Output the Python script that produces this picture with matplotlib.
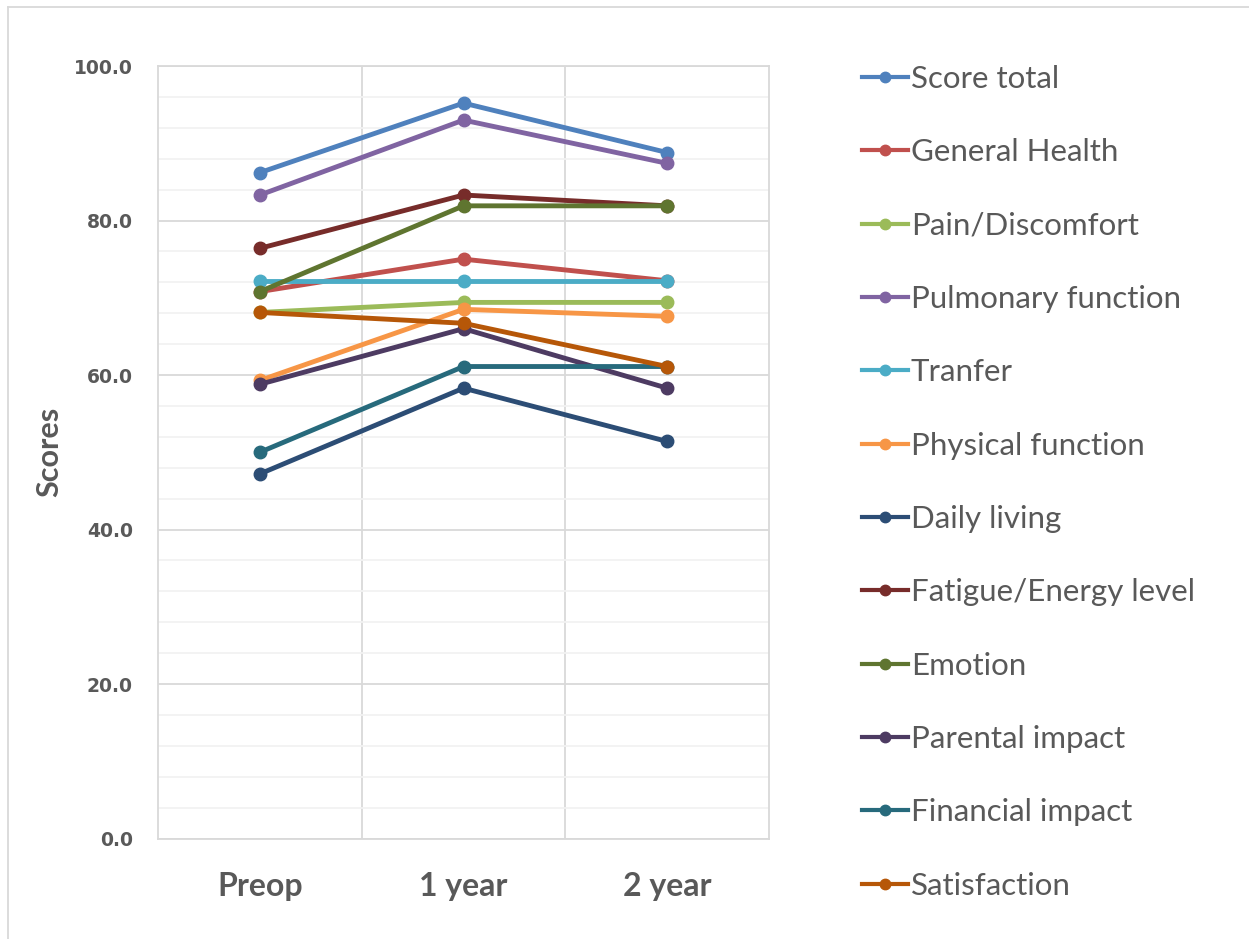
import matplotlib.pyplot as plt
from matplotlib.lines import Line2D
from matplotlib.ticker import MultipleLocator, FormatStrFormatter

plt.rcParams['font.family'] = ['Lato', 'DejaVu Sans']

# Data
periods = ['Preop', '1 year', '2 year']
series_names = ['Score total', 'General Health', 'Pain/Discomfort', 'Pulmonary function',
                'Tranfer', 'Physical function', 'Daily living', 'Fatigue/Energy level',
                'Emotion', 'Parental impact', 'Financial impact', 'Satisfaction']
score_total = [86.2, 95.2, 88.8]
general_health = [70.8, 75.0, 72.2]
pain_discomfort = [68.1, 69.4, 69.4]
pulmonary = [83.3, 93.0, 87.4]
tranfer = [72.2, 72.2, 72.2]
physical = [59.3, 68.5, 67.6]
daily_living = [47.2, 58.3, 51.4]
fatigue = [76.4, 83.3, 81.9]
emotion = [70.8, 81.9, 81.9]
parental = [58.8, 66.0, 58.3]
financial = [50.0, 61.1, 61.1]
satisfaction = [68.1, 66.7, 61.1]

values = [score_total, general_health, pain_discomfort, pulmonary, tranfer, physical,
          daily_living, fatigue, emotion, parental, financial, satisfaction]
colors = ['#4F81BD', '#C0504D', '#9BBB59', '#8064A2', '#4BACC6', '#F79646',
          '#2C4D75', '#772C2A', '#5F7530', '#4D3B62', '#276A7C', '#B65708']

text_color = '#595959'
grid_color = '#D9D9D9'

fig = plt.figure(figsize=(12.49, 9.39), dpi=100)
ax = fig.add_axes([0.1265, 0.107, 0.4892, 0.8227])

x = list(range(len(periods)))
for name, vals, c in zip(series_names, values, colors):
    ax.plot(x, vals, color=c, lw=3.5, marker='o', ms=9, label=name,
            solid_capstyle='round', zorder=3)

ax.set_xlim(-0.5, 2.5)
ax.set_ylim(0, 100)
ax.yaxis.set_major_locator(MultipleLocator(20))
ax.yaxis.set_minor_locator(MultipleLocator(4))
ax.yaxis.set_major_formatter(FormatStrFormatter('%.1f'))
ax.set_xticks(x)
ax.set_xticklabels(periods)

# category boundary lines
ax.set_xticks([0.5, 1.5], minor=True)
ax.grid(True, which='major', axis='y', color=grid_color, lw=1.3, zorder=0)
ax.grid(True, which='minor', axis='y', color='#F2F2F2', lw=1.3, zorder=0)
ax.grid(True, which='minor', axis='x', color=grid_color, lw=1.3, zorder=0)
ax.set_axisbelow(True)

for s in ax.spines.values():
    s.set_color(grid_color)
    s.set_linewidth(1.3)

ax.tick_params(axis='both', which='both', length=0)
ax.tick_params(axis='y', pad=18, labelcolor=text_color)
ax.tick_params(axis='x', pad=24, labelsize=23, labelcolor=text_color)
for lab in ax.get_xticklabels():
    lab.set_fontweight('bold')
for lab in ax.get_yticklabels():
    lab.set_fontweight('bold')
    lab.set_fontfamily('DejaVu Sans')
    lab.set_fontsize(13.5)

ax.set_ylabel('Scores', fontsize=22, fontweight='bold', color=text_color, labelpad=8)

handles = [Line2D([0], [0], color=c, lw=3, marker='o', ms=7.5) for c in colors]
leg = fig.legend(handles, series_names, loc='upper left', bbox_to_anchor=(0.680, 0.944),
                 frameon=False, fontsize=22.5, labelspacing=1.45, handlelength=1.47,
                 handletextpad=0.1, borderaxespad=0)
for t in leg.get_texts():
    t.set_color(text_color)

# chart frame (top and left edges visible)
fig.add_artist(Line2D([8 / 1249, 1.0], [1 - 7 / 939, 1 - 7 / 939], color=grid_color, lw=1.3))
fig.add_artist(Line2D([8 / 1249, 8 / 1249], [0.0, 1 - 7 / 939], color=grid_color, lw=1.3))

fig.savefig('out.png', dpi=100)
